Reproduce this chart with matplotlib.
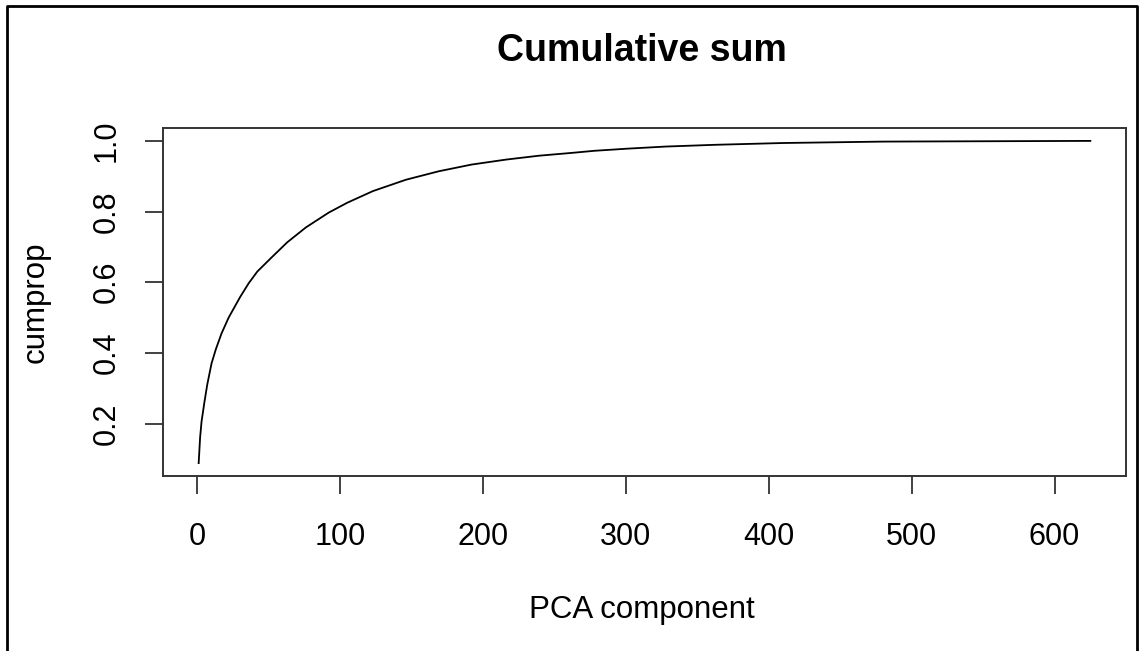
import matplotlib
matplotlib.use('Agg')
from matplotlib import pyplot as plt
from matplotlib.lines import Line2D

# cumulative proportion of variance per PCA component
component = [1, 2, 3, 5, 7, 10, 13, 17, 22, 30, 36, 42, 52, 63, 76, 92, 105,
             123, 146, 169, 192, 216, 239, 262, 278, 301, 328, 363, 410, 480,
             625]
cumprop = [0.088, 0.16, 0.205, 0.26, 0.31, 0.37, 0.41, 0.455, 0.50, 0.558,
           0.597, 0.630, 0.670, 0.713, 0.755, 0.797, 0.825, 0.858, 0.890,
           0.914, 0.933, 0.947, 0.958, 0.966, 0.972, 0.978, 0.984, 0.989,
           0.994, 0.998, 1.0]
xticks = [0, 100, 200, 300, 400, 500, 600]
yticks = [0.2, 0.4, 0.6, 0.8, 1.0]

plt.rcParams['font.family'] = ['Liberation Sans', 'DejaVu Sans']

fig = plt.figure(figsize=(11.41, 6.51), dpi=100)
ax = fig.add_axes([163 / 1141, 1 - 476 / 651, (1126 - 163) / 1141, (476 - 128) / 651])

ax.plot(component, cumprop, color='black', lw=1.3)

# R style 4% padding on both axes
xr = max(component) - min(component)
yr = max(cumprop) - min(cumprop)
ax.set_xlim(min(component) - 0.04 * xr, max(component) + 0.04 * xr)
ax.set_ylim(min(cumprop) - 0.04 * yr, max(cumprop) + 0.04 * yr)

ax.set_xticks(xticks)
ax.set_xticklabels([str(t) for t in xticks])
ax.set_yticks(yticks)
ax.set_yticklabels(['%.1f' % t for t in yticks])
ax.tick_params(length=13, width=1.3, colors='#333333', labelcolor='black',
               labelsize=22, pad=20)
ax.tick_params(axis='y', pad=17)
plt.setp(ax.get_yticklabels(), rotation=90, va='center')
for s in ax.spines.values():
    s.set_linewidth(1.4)
    s.set_color('#333333')

fig.text(642 / 1141, 1 - 51 / 651, 'Cumulative sum', ha='center', va='center',
         fontsize=27, fontweight='bold')
fig.text(642 / 1141, 1 - 610 / 651, 'PCA component', ha='center', va='center',
         fontsize=22.5)
fig.text(36 / 1141, 1 - 302 / 651, 'cumprop', ha='center', va='center',
         fontsize=22.5, rotation=90)

# frame around the figure (left, top, right)
fx = [6.5 / 1141, 6.5 / 1141, 1136.5 / 1141, 1136.5 / 1141]
fy = [0, 1 - 5.5 / 651, 1 - 5.5 / 651, 0]
fig.add_artist(Line2D(fx, fy, transform=fig.transFigure, color='black', lw=2))

plt.savefig('out.png', dpi=100)
